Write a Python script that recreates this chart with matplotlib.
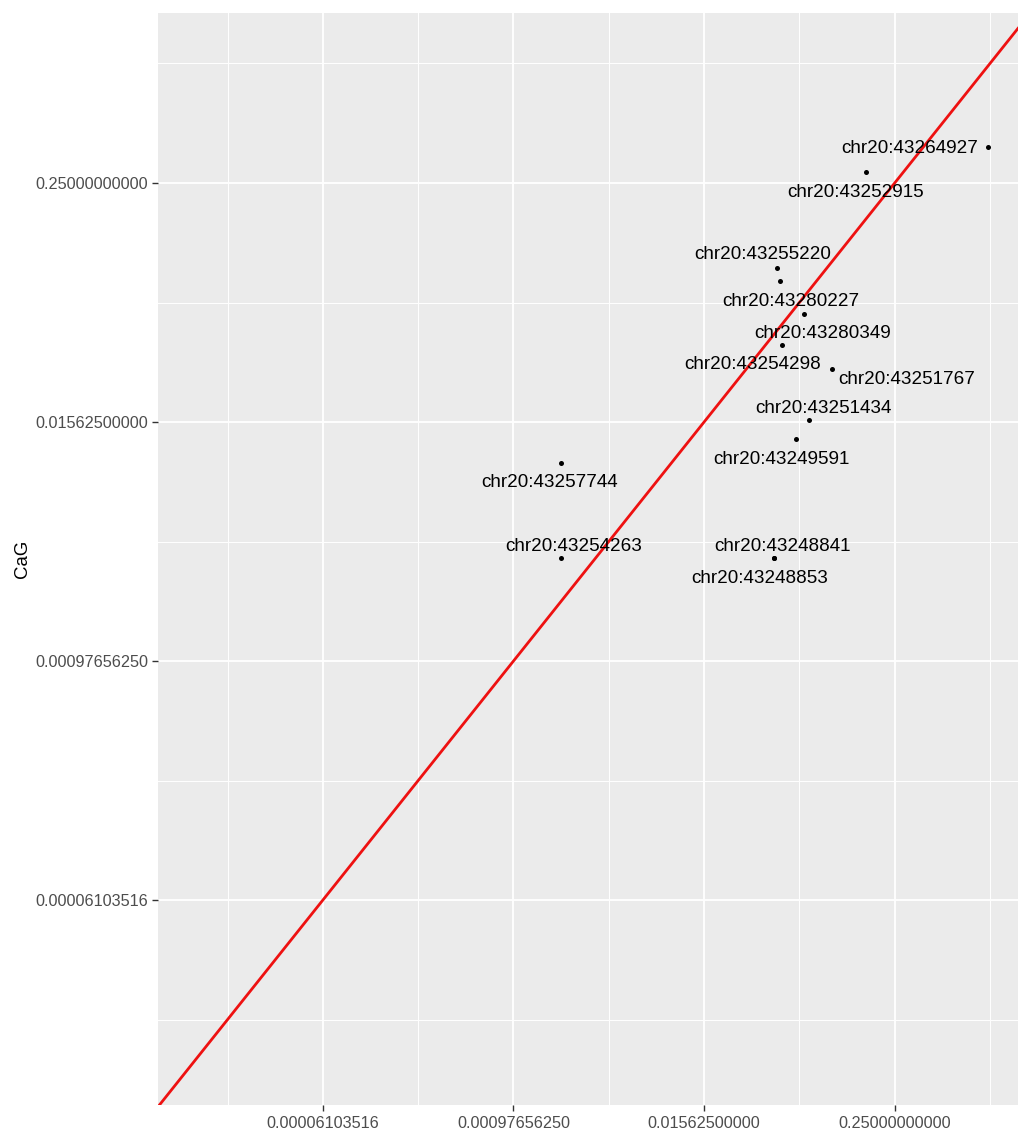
import matplotlib
matplotlib.use("Agg")
import matplotlib.pyplot as plt
import numpy as np
from matplotlib.ticker import FixedLocator, FuncFormatter

plt.rcParams['font.family'] = ['Liberation Sans', 'DejaVu Sans']

# ---- data ----
site_labels = ["chr20:43264927", "chr20:43252915", "chr20:43255220", "chr20:43280227",
               "chr20:43280349", "chr20:43254298", "chr20:43251767", "chr20:43251434",
               "chr20:43249591", "chr20:43257744", "chr20:43254263", "chr20:43248841",
               "chr20:43248853"]
cpg_values = [0.967, 0.165, 0.0451, 0.0472, 0.0666, 0.0488, 0.100, 0.0719,
              0.0593, 0.00195, 0.00195, 0.0434, 0.0434]
cag_values = [0.381, 0.283, 0.0938, 0.0802, 0.0546, 0.0382, 0.0290, 0.0160,
              0.0129, 0.00976, 0.00323, 0.00323, 0.00323]
major_ticks = [2.0**-14, 2.0**-10, 2.0**-6, 2.0**-2]
minor_ticks = [2.0**-16, 2.0**-12, 2.0**-8, 2.0**-4, 2.0**0]

# ---- layout: label offsets (pixels, x right / y up) ----
label_offsets = [(-78, -2), (-11, -20), (-14, 13), (11, -20), (19, -19), (-30, -20),
                 (75, -11), (14, 11), (-14, -21), (-11, -20), (13, 11), (8, 11),
                 (-15, -21)]

W, H = 1018, 1131
fig = plt.figure(figsize=(W / 100, H / 100), dpi=100)
ax = fig.add_axes([158 / W, (H - 1105) / H, (1018 - 158) / W, (1105 - 13) / H])

ax.set_facecolor('#EBEBEB')
for s in ax.spines.values():
    s.set_visible(False)

ax.set_xscale('log', base=2)
ax.set_yscale('log', base=2)
ax.set_xlim(2.0**-17.46, 2.0**0.588)
ax.set_ylim(2.0**-17.43, 2.0**0.845)

fmt = FuncFormatter(lambda v, p: f"{v:.11f}")
for axis in (ax.xaxis, ax.yaxis):
    axis.set_major_locator(FixedLocator(major_ticks))
    axis.set_minor_locator(FixedLocator(minor_ticks))
    axis.set_major_formatter(fmt)
    axis.set_minor_formatter(FuncFormatter(lambda v, p: ""))

ax.grid(which='major', color='white', linewidth=1.3)
ax.grid(which='minor', color='white', linewidth=0.7)
ax.set_axisbelow(True)
ax.tick_params(which='major', length=4, width=1.0, color='#333333',
               labelsize=11.7, labelcolor='#4D4D4D', pad=3)
ax.tick_params(axis='x', which='major', pad=4)
ax.tick_params(which='minor', length=0)

ax.axline((2.0**-20, 2.0**-20), (1.0, 1.0), color='#EE1111', linewidth=2.0, zorder=2)

ax.scatter(cpg_values, cag_values, s=13, color='black', zorder=3, linewidths=0)

for lab, xv, yv, (dx, dy) in zip(site_labels, cpg_values, cag_values, label_offsets):
    ax.annotate(lab, (xv, yv), xytext=(dx, dy), textcoords='offset pixels',
                ha='center', va='center', fontsize=13.6, color='black', zorder=4)

ax.set_ylabel('CaG', fontsize=13.4, color='black', labelpad=3)

fig.savefig('out.png', dpi=100)
